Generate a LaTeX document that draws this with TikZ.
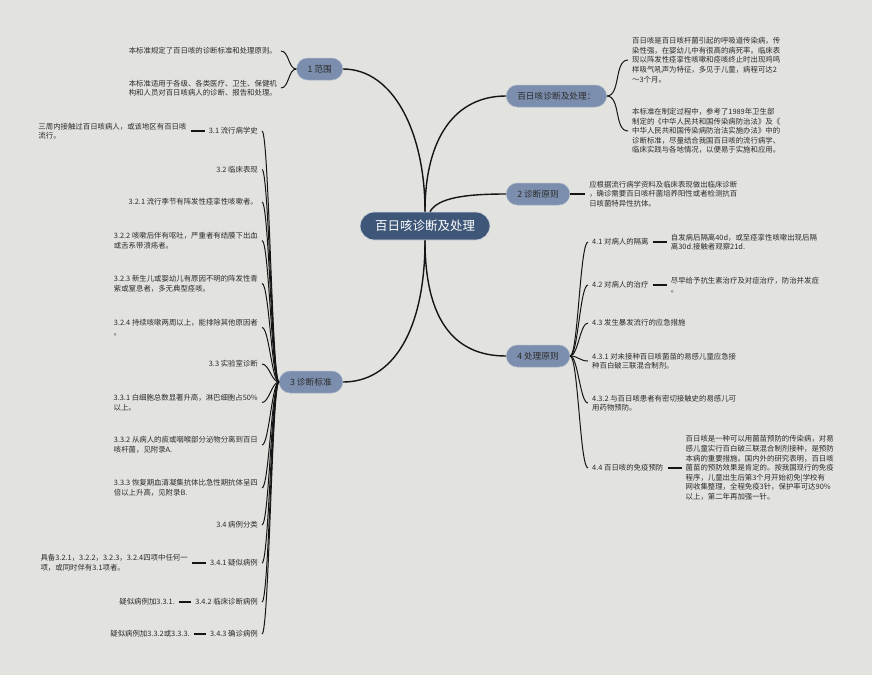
\documentclass[tikz,border=0pt]{standalone}
\usepackage{fontspec}
\setmainfont{Noto Sans CJK SC}
\usepackage{tikz}
\usetikzlibrary{positioning}
\definecolor{rootblue}{HTML}{3E5677}
\definecolor{topicblue}{HTML}{7C8EAD}
\definecolor{inkgray}{HTML}{2B2B2B}
\definecolor{linkgray}{HTML}{151515}
\definecolor{paper}{HTML}{E2E2DE}

\begin{document}
\begin{tikzpicture}[
    x=1pt, y=-1pt,
    root/.style={rounded corners=14pt, minimum height=28pt, inner xsep=15pt, fill=rootblue,
      draw=white!80!rootblue, line width=0.8pt, text=white, font=\fontsize{12.5}{14}\selectfont},
    topic/.style={rounded corners=11pt, minimum height=22pt, inner xsep=11pt, fill=topicblue,
      draw=white!35!topicblue, line width=0.5pt, text=inkgray, font=\fontsize{8.7}{10}\selectfont},
    leaf/.style={inner xsep=4pt, inner ysep=1pt, align=left, text=inkgray,
      font=\fontsize{7.4}{9.6}\selectfont},
    link/.style={draw=linkgray, line width=1.4pt},
    sub/.style={draw=linkgray, line width=1pt},
    tie/.style={draw=linkgray, line width=1.6pt},
  ]
    % Background
    \fill[paper] (0,0) rectangle (872,675);

    % Root and main topics
    \node[root] (ctr) at (425,226) {百日咳诊断及处理};
    \node[topic, anchor=east] (n1) at (343,69) {1 范围};
    \node[topic, anchor=west] (nA) at (506,96) {百日咳诊断及处理：};
    \node[topic, anchor=west] (n2) at (506,194) {2 诊断原则};
    \node[topic, anchor=east] (n3) at (343,382) {3 诊断标准};
    \node[topic, anchor=west] (n4) at (506,356) {4 处理原则};

    \draw[link] (ctr.north) .. controls +(0,-80) and +(50,0) .. (n1.east);
    \draw[link] (ctr.north) .. controls +(0,-75) and +(-50,0) .. (nA.west);
    \draw[link] ([xshift=5pt]ctr.north) .. controls +(8,-14) and +(-40,0) .. (n2.west);
    \draw[link] (ctr.south) .. controls +(0,90) and +(50,0) .. (n3.east);
    \draw[link] (ctr.south) .. controls +(0,75) and +(-55,0) .. (n4.west);

    % 1 范围
    \node[leaf, anchor=east] (s11) at (281,51) {本标准规定了百日咳的诊断标准和处理原则。};
    \node[leaf, anchor=east] (s12) at (281,88) {本标准适用于各级、各类医疗、卫生、保健机\\构和人员对百日咳病人的诊断、报告和处理。};
    \draw[sub] (n1.west) .. controls +(-8,0) and +(8,0) .. (s11.east);
    \draw[sub] (n1.west) .. controls +(-8,0) and +(8,0) .. (s12.east);

    % 百日咳诊断及处理
    \node[leaf, anchor=west] (sA1) at (628,60) {百日咳是百日咳杆菌引起的呼吸道传染病，传\\染性强，在婴幼儿中有很高的病死率。临床表\\现以阵发性痉挛性咳嗽和痉咳终止时出现鸡鸣\\样吸气吼声为特征，多见于儿童，病程可达2\\～3个月。};
    \node[leaf, anchor=west] (sA2) at (628,131) {本标准在制定过程中，参考了1989年卫生部\\制定的《中华人民共和国传染病防治法》及《\\中华人民共和国传染病防治法实施办法》中的\\诊断标准，尽量结合我国百日咳的流行病学、\\临床实践与各地情况，以便易于实施和应用。};
    \draw[sub] (nA.east) .. controls +(14,0) and +(-14,0) .. (sA1.west);
    \draw[sub] (nA.east) .. controls +(14,0) and +(-14,0) .. (sA2.west);

    % 2 诊断原则
    \node[leaf, right=15pt of n2] (s21) {应根据流行病学资料及临床表现做出临床诊断\\，确诊需要百日咳杆菌培养阳性或者检测抗百\\日咳菌特异性抗体。};
    \draw[tie] (n2.east) -- (s21.west);

    % 3 诊断标准
    \node[leaf, anchor=east] (n31) at (262,131) {3.1 流行病学史};
    \node[leaf, anchor=east] (n32) at (262,169.5) {3.2 临床表现};
    \node[leaf, anchor=east] (n321) at (262,202) {3.2.1 流行季节有阵发性痉挛性咳嗽者。};
    \node[leaf, anchor=east] (n322) at (262,240.5) {3.2.2 咳嗽后伴有呕吐，严重者有结膜下出血\\或舌系带溃疡者。};
    \node[leaf, anchor=east] (n323) at (262,283.5) {3.2.3 新生儿或婴幼儿有原因不明的阵发性青\\紫或窒息者，多无典型痉咳。};
    \node[leaf, anchor=east] (n324) at (262,327.5) {3.2.4 持续咳嗽两周以上，能排除其他原因者\\。};
    \node[leaf, anchor=east] (n33) at (262,364) {3.3 实验室诊断};
    \node[leaf, anchor=east] (n331) at (262,402.5) {3.3.1 白细胞总数显著升高，淋巴细胞占50\%\\以上。};
    \node[leaf, anchor=east] (n332) at (262,445) {3.3.2 从病人的痰或咽喉部分泌物分离到百日\\咳杆菌，见附录A.};
    \node[leaf, anchor=east] (n333) at (262,488) {3.3.3 恢复期血清凝集抗体比急性期抗体呈四\\倍以上升高，见附录B.};
    \node[leaf, anchor=east] (n34) at (262,525) {3.4 病例分类};
    \node[leaf, anchor=east] (n341) at (262,563) {3.4.1 疑似病例};
    \node[leaf, anchor=east] (n342) at (262,602) {3.4.2 临床诊断病例};
    \node[leaf, anchor=east] (n343) at (262,634) {3.4.3 确诊病例};

    \draw[sub] (n3.west) .. controls +(-7,0) and +(7,0) .. (n31.east);
    \draw[sub] (n3.west) .. controls +(-7,0) and +(7,0) .. (n32.east);
    \draw[sub] (n3.west) .. controls +(-7,0) and +(7,0) .. (n321.east);
    \draw[sub] (n3.west) .. controls +(-7,0) and +(7,0) .. (n322.east);
    \draw[sub] (n3.west) .. controls +(-7,0) and +(7,0) .. (n323.east);
    \draw[sub] (n3.west) .. controls +(-7,0) and +(7,0) .. (n324.east);
    \draw[sub] (n3.west) .. controls +(-7,0) and +(7,0) .. (n33.east);
    \draw[sub] (n3.west) .. controls +(-7,0) and +(7,0) .. (n331.east);
    \draw[sub] (n3.west) .. controls +(-7,0) and +(7,0) .. (n332.east);
    \draw[sub] (n3.west) .. controls +(-7,0) and +(7,0) .. (n333.east);
    \draw[sub] (n3.west) .. controls +(-7,0) and +(7,0) .. (n34.east);
    \draw[sub] (n3.west) .. controls +(-7,0) and +(7,0) .. (n341.east);
    \draw[sub] (n3.west) .. controls +(-7,0) and +(7,0) .. (n342.east);
    \draw[sub] (n3.west) .. controls +(-7,0) and +(7,0) .. (n343.east);

    \node[leaf, left=14pt of n31] (d31) {三周内接触过百日咳病人，或该地区有百日咳\\流行。};
    \node[leaf, left=14pt of n341] (d341) {具备3.2.1，3.2.2，3.2.3，3.2.4四项中任何一\\项，或同时伴有3.1项者。};
    \node[leaf, left=12pt of n342] (d342) {疑似病例加3.3.1.};
    \node[leaf, left=12pt of n343] (d343) {疑似病例加3.3.2或3.3.3.};
    \draw[tie] (d31.east) -- (n31.west);
    \draw[tie] (d341.east) -- (n341.west);
    \draw[tie] (d342.east) -- (n342.west);
    \draw[tie] (d343.east) -- (n343.west);

    % 4 处理原则
    \node[leaf, anchor=west] (n41) at (588,242) {4.1 对病人的隔离};
    \node[leaf, anchor=west] (n42) at (588,285) {4.2 对病人的治疗};
    \node[leaf, anchor=west] (n43) at (588,323) {4.3 发生暴发流行的应急措施};
    \node[leaf, anchor=west] (n431) at (588,361) {4.3.1 对未接种百日咳菌苗的易感儿童应急接\\种百白破三联混合制剂。};
    \node[leaf, anchor=west] (n432) at (588,403) {4.3.2 与百日咳患者有密切接触史的易感儿可\\用药物预防。};
    \node[leaf, anchor=west] (n44) at (588,468) {4.4 百日咳的免疫预防};

    \draw[sub] (n4.east) .. controls +(8,0) and +(-8,0) .. (n41.west);
    \draw[sub] (n4.east) .. controls +(8,0) and +(-8,0) .. (n42.west);
    \draw[sub] (n4.east) .. controls +(8,0) and +(-8,0) .. (n43.west);
    \draw[sub] (n4.east) .. controls +(8,0) and +(-8,0) .. (n431.west);
    \draw[sub] (n4.east) .. controls +(8,0) and +(-8,0) .. (n432.west);
    \draw[sub] (n4.east) .. controls +(8,0) and +(-8,0) .. (n44.west);

    \node[leaf, right=14pt of n41] (d41) {自发病后隔离40d，或至痉挛性咳嗽出现后隔\\离30d.接触者观察21d.};
    \node[leaf, right=14pt of n42] (d42) {尽早给予抗生素治疗及对症治疗，防治并发症\\。};
    \node[leaf, right=14pt of n44] (d44) {百日咳是一种可以用菌苗预防的传染病，对易\\感儿童实行百白破三联混合制剂接种，是预防\\本病的重要措施。国内外的研究表明，百日咳\\菌苗的预防效果是肯定的。按我国现行的免疫\\程序，儿童出生后第3个月开始初免|学校有\\网收集整理，全程免疫3针，保护率可达90\%\\以上，第二年再加强一针。};
    \draw[tie] (n41.east) -- (d41.west);
    \draw[tie] (n42.east) -- (d42.west);
    \draw[tie] (n44.east) -- (d44.west);
\end{tikzpicture}
\end{document}
